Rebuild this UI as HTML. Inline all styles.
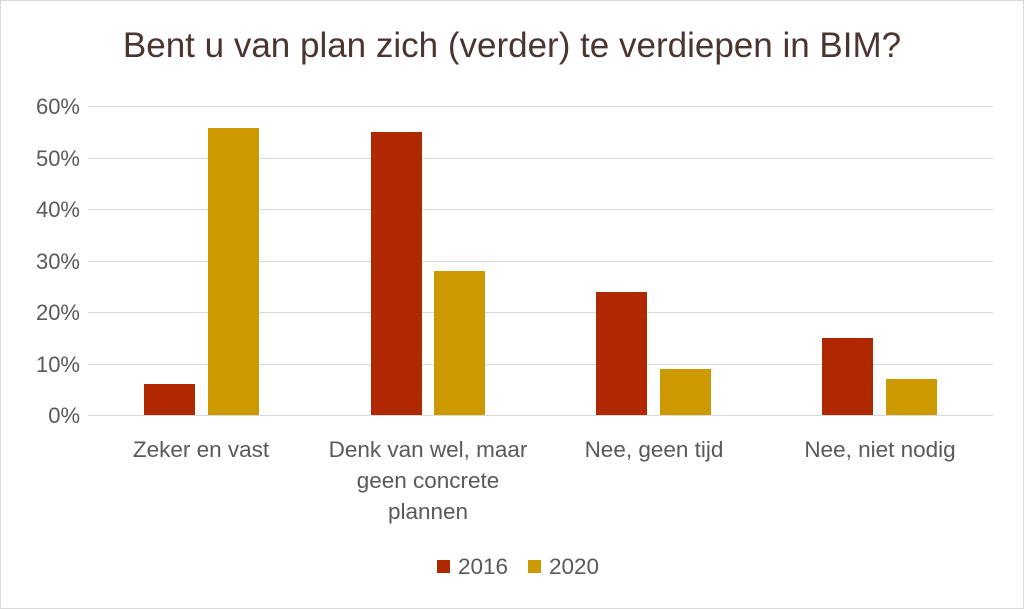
<!DOCTYPE html>
<html><head><meta charset="utf-8"><style>
body{margin:0;background:#fff;}
svg{display:block;font-family:"Liberation Sans",sans-serif;}
</style></head><body>
<svg width="1024" height="609" xmlns="http://www.w3.org/2000/svg">
<rect x="0.5" y="0.5" width="1023" height="608" fill="#fff" stroke="#d9d9d9"/>
<text x="512" y="57" text-anchor="middle" font-size="35" fill="#4a3530">Bent u van plan zich (verder) te verdiepen in BIM?</text>
<g stroke="#d9d9d9" stroke-width="1">
<line x1="88" y1="106.5" x2="993" y2="106.5"/>
<line x1="88" y1="158.5" x2="993" y2="158.5"/>
<line x1="88" y1="209.5" x2="993" y2="209.5"/>
<line x1="88" y1="261.5" x2="993" y2="261.5"/>
<line x1="88" y1="312.5" x2="993" y2="312.5"/>
<line x1="88" y1="364.5" x2="993" y2="364.5"/>
<line x1="88" y1="415.5" x2="993" y2="415.5"/>
</g>
<g font-size="22" fill="#595959" text-anchor="end">
<text x="80" y="114">60%</text>
<text x="80" y="166">50%</text>
<text x="80" y="217">40%</text>
<text x="80" y="269">30%</text>
<text x="80" y="320">20%</text>
<text x="80" y="372">10%</text>
<text x="80" y="423">0%</text>
</g>
<g fill="#b02800">
<rect x="144" y="384" width="51" height="31"/>
<rect x="371" y="132" width="51" height="283"/>
<rect x="596" y="292" width="51" height="123"/>
<rect x="822" y="338" width="51" height="77"/>
</g>
<g fill="#cc9a00">
<rect x="208" y="128" width="51" height="287"/>
<rect x="434" y="271" width="51" height="144"/>
<rect x="660" y="369" width="51" height="46"/>
<rect x="886" y="379" width="51" height="36"/>
</g>
<g font-size="22.5" fill="#595959" text-anchor="middle">
<text x="201" y="457">Zeker en vast</text>
<text x="428" y="457">Denk van wel, maar</text>
<text x="428" y="488">geen concrete</text>
<text x="428" y="519">plannen</text>
<text x="654" y="457">Nee, geen tijd</text>
<text x="880" y="457">Nee, niet nodig</text>
</g>
<rect x="437" y="560" width="13" height="13" fill="#b02800"/>
<text x="458" y="574" font-size="22.5" fill="#595959">2016</text>
<rect x="528" y="560" width="13" height="13" fill="#cc9a00"/>
<text x="549" y="574" font-size="22.5" fill="#595959">2020</text>
</svg>
</body></html>
